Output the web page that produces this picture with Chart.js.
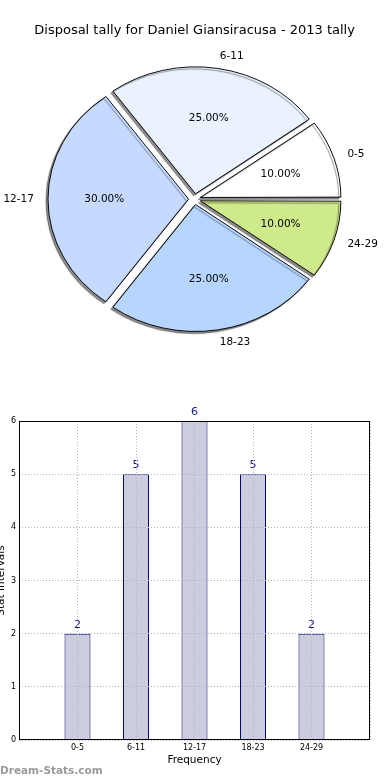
<!DOCTYPE html>
<html><head><meta charset="utf-8">
<script src="https://cdn.jsdelivr.net/npm/chart.js@4.4.1/dist/chart.umd.min.js"></script>
<style>
html,body{margin:0;padding:0;background:#fff;width:390px;height:780px;overflow:hidden;position:relative;font-family:'DejaVu Sans',sans-serif}
#pieBox{position:absolute;left:0;top:0;width:390px;height:360px}
#barBox{position:absolute;left:0;top:400px;width:390px;height:380px}
#wm{position:absolute;left:0;top:764px;font:bold 10.5px 'DejaVu Sans',sans-serif;color:#9a9a9a;white-space:nowrap}
</style></head><body>
<div id="pieBox"><canvas id="pie" width="390" height="360"></canvas></div>
<div id="barBox"><canvas id="bar" width="390" height="380"></canvas></div>
<div id="wm">Dream-Stats.com</div>
<script>
// ---- data ----
const chartTitle = 'Disposal tally for Daniel Giansiracusa - 2013 tally';
const categories = ['0-5', '6-11', '12-17', '18-23', '24-29'];
const counts = [2, 5, 6, 5, 2];
const yTicks = [0, 1, 2, 3, 4, 5, 6];
const xAxisTitle = 'Frequency';
const yAxisTitle = 'Stat Intervals';

// ---- styles ----
const sliceColors = ['#ffffff', '#eaf2ff', '#c6d9ff', '#b7d6ff', '#cfea8b'];
const KY = 0.903;        // vertical squash of the pie (ellipse)
const EXPLODE = 6;       // explode distance in px
const RADIUS = 140.6;

Chart.defaults.font.family = "'DejaVu Sans', sans-serif";
Chart.defaults.color = '#000';

const total = counts.reduce((a, b) => a + b, 0);

const pieLabels = categories.slice().reverse();
const pieData = counts.slice().reverse();
const pieColors = sliceColors.slice().reverse();

const ellipsePlugin = {
  id: 'ellipse',
  beforeDatasetsDraw(chart) {
    const meta = chart.getDatasetMeta(0);
    // cancel Chart.js's radius growth on offset arcs (matplotlib explode only shifts)
    meta.data.forEach(arc => {
      const fix = 1 - Math.sin(Math.min(Math.PI, arc.circumference || 0));
      arc.outerRadius = RADIUS - EXPLODE * fix;
    });
    const arc = meta.data[0];
    const ctx = chart.ctx;
    ctx.save();
    ctx.translate(arc.x, arc.y);
    ctx.scale(1, KY);
    ctx.translate(-arc.x, -arc.y);
    ctx.shadowColor = 'rgba(0,0,0,0.45)';
    ctx.shadowOffsetX = -2;
    ctx.shadowOffsetY = 2;
    ctx.shadowBlur = 1;
  },
  afterDatasetsDraw(chart) {
    const ctx = chart.ctx;
    ctx.restore();
    const meta = chart.getDatasetMeta(0);
    const vals = chart.data.datasets[0].data;
    ctx.save();
    ctx.fillStyle = '#000';
    ctx.font = "10.5px 'DejaVu Sans', sans-serif";
    ctx.textBaseline = 'middle';
    meta.data.forEach((arc, i) => {
      const a = (arc.startAngle + arc.endAngle) / 2;
      const r = RADIUS;
      const c = Math.cos(a), s = Math.sin(a);
      const lx = arc.x + c * (1.1 * r + EXPLODE);
      const ly = arc.y + KY * s * (1.1 * r + EXPLODE);
      ctx.textAlign = c > 0 ? 'left' : 'right';
      ctx.fillText(chart.data.labels[i], lx, ly);
      const px = arc.x + c * (0.6 * r + EXPLODE);
      const py = arc.y + KY * s * (0.6 * r + EXPLODE);
      ctx.textAlign = 'center';
      ctx.fillText((vals[i] / total * 100).toFixed(2) + '%', px, py);
    });
    ctx.restore();
  }
};

new Chart(document.getElementById('pie'), {
  type: 'pie',
  data: {
    labels: pieLabels,
    datasets: [{
      data: pieData,
      backgroundColor: pieColors,
      borderColor: '#000',
      borderWidth: 1,
      offset: EXPLODE * 4,
      hoverOffset: 0
    }]
  },
  options: {
    responsive: false,
    animation: false,
    devicePixelRatio: 1,
    rotation: 90,
    radius: RADIUS,
    layout: { padding: { right: 0.8 } },
    plugins: {
      legend: { display: false },
      tooltip: { enabled: false },
      title: {
        display: true,
        text: chartTitle,
        color: '#000',
        font: { size: 13, weight: 'normal' },
        padding: { top: 22.7, bottom: 0 }
      }
    }
  },
  plugins: [ellipsePlugin]
});

const barPlugin = {
  id: 'barExtras',
  afterDatasetsDraw(chart) {
    const ctx = chart.ctx;
    const meta = chart.getDatasetMeta(0);
    ctx.save();
    ctx.fillStyle = '#1a1a8a';
    ctx.font = "11px 'DejaVu Sans', sans-serif";
    ctx.textAlign = 'center';
    ctx.textBaseline = 'alphabetic';
    meta.data.forEach((bar, i) => {
      ctx.fillText(String(counts[i]), bar.x, bar.y - 6);
    });
    ctx.restore();
  },
  afterDraw(chart) {
    const { ctx, chartArea: a } = chart;
    ctx.save();
    ctx.strokeStyle = '#000';
    ctx.lineWidth = 1;
    const l = Math.round(a.left) + 0.5, t = Math.round(a.top) + 0.5;
    const r = Math.round(a.right) - 0.5, b = Math.round(a.bottom) - 0.5;
    ctx.strokeRect(l, t, r - l, b - t);
    ctx.restore();
  }
};

new Chart(document.getElementById('bar'), {
  type: 'bar',
  data: {
    datasets: [{
      data: categories.map((c, i) => ({ x: i, y: counts[i] })),
      backgroundColor: '#ccccdf',
      borderColor: '#00007a',
      borderWidth: 1,
      barPercentage: 0.444,
      categoryPercentage: 1
    }]
  },
  options: {
    responsive: false,
    animation: false,
    devicePixelRatio: 1,
    layout: { padding: { top: 21, right: 20, left: 0, bottom: 0 } },
    plugins: { legend: { display: false }, tooltip: { enabled: false } },
    scales: {
      x: {
        type: 'linear',
        offset: false,
        min: -1,
        max: categories.length,
        afterFit: s => { s.height = 40; },
        ticks: {
          stepSize: 1,
          autoSkip: false,
          maxRotation: 0,
          padding: 3,
          font: { size: 8 },
          callback: v => (categories[v] !== undefined ? categories[v] : '')
        },
        grid: { color: '#b4b4b4', lineWidth: 1, drawTicks: false, offset: false, z: 1 },
        border: { display: false, dash: [1, 2], z: 1 },
        title: {
          display: true,
          text: xAxisTitle,
          font: { size: 10.5 },
          padding: { top: 0, bottom: 13.7 }
        }
      },
      y: {
        min: yTicks[0],
        max: yTicks[yTicks.length - 1],
        afterFit: s => { s.width = 19; },
        ticks: { stepSize: 1, padding: 3, font: { size: 8 } },
        grid: { color: '#b4b4b4', lineWidth: 1, drawTicks: false, z: 1 },
        border: { display: false, dash: [1, 2], z: 1 },
        title: {
          display: true,
          text: yAxisTitle,
          font: { size: 10.5 },
          padding: { top: -5, bottom: 0 }
        }
      }
    }
  },
  plugins: [barPlugin]
});
</script>
</body></html>
